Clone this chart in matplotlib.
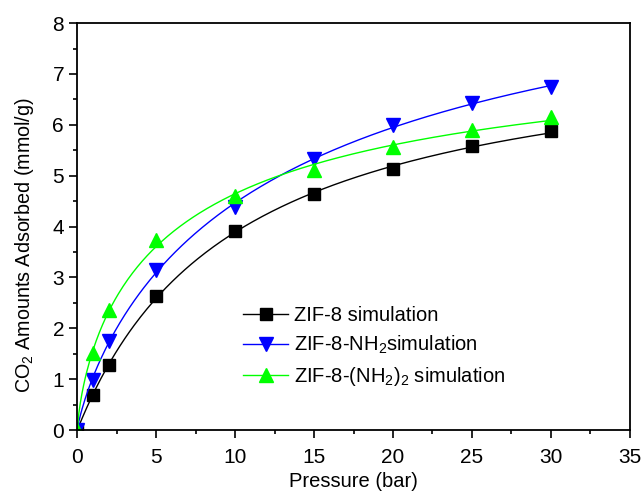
import matplotlib
matplotlib.use("Agg")
import matplotlib.pyplot as plt
import numpy as np
from matplotlib.ticker import MultipleLocator

plt.rcParams['font.family'] = ['Liberation Sans', 'DejaVu Sans']
plt.rcParams['mathtext.fontset'] = 'custom'
plt.rcParams['mathtext.rm'] = 'Liberation Sans'
plt.rcParams['mathtext.it'] = 'Liberation Sans'

# pressure (bar) and CO2 uptake (mmol/g)
pressure = [0, 1, 2, 5, 10, 15, 20, 25, 30]
zif8 = [0, 0.68, 1.28, 2.64, 3.91, 4.64, 5.14, 5.58, 5.87]
zif8_nh2 = [0, 0.99, 1.75, 3.15, 4.38, 5.33, 6.0, 6.43, 6.75]
zif8_nh2_2 = [0, 1.51, 2.36, 3.73, 4.61, 5.12, 5.57, 5.9, 6.15]

labels = ['ZIF-8 simulation', 'ZIF-8-NH$_2$simulation', 'ZIF-8-(NH$_2$)$_2$ simulation']
colors = ['black', '#0000ff', '#00ff00']
markers = ['s', 'v', '^']
sizes = [8.5, 10, 10]


def lf_fit(p, q):
    # Langmuir-Freundlich fit, grid search on b and n, qm by least squares
    p = np.asarray(p, float)
    q = np.asarray(q, float)
    best = None
    for b in np.linspace(0.005, 0.5, 200):
        for n in np.linspace(0.5, 1.2, 71):
            f = b * p ** n / (1 + b * p ** n)
            qm = (f @ q) / (f @ f)
            err = np.sum((qm * f - q) ** 2)
            if best is None or err < best[0]:
                best = (err, qm, b, n)
    _, qm, b, n = best
    return lambda x: qm * b * x ** n / (1 + b * x ** n)


fig = plt.figure(figsize=(6.44, 4.92), dpi=100)
ax = fig.add_axes([0.12, 0.126, 0.858, 0.827])

xs = np.linspace(0, 30, 300)
for ys, c, m, ms, lab in zip([zif8, zif8_nh2, zif8_nh2_2], colors, markers, sizes, labels):
    fit = lf_fit(pressure, ys)
    ax.plot(xs, fit(xs), color=c, lw=1)
    ax.plot(pressure, ys, m, color=c, ms=ms, mec=c, lw=0)
    ax.plot([], [], '-', marker=m, color=c, ms=ms, lw=1, label=lab)

ax.set_xlim(0, 35)
ax.set_ylim(0, 8)
ax.xaxis.set_major_locator(MultipleLocator(5))
ax.xaxis.set_minor_locator(MultipleLocator(2.5))
ax.yaxis.set_major_locator(MultipleLocator(1))
ax.yaxis.set_minor_locator(MultipleLocator(0.5))
ax.tick_params(which='major', direction='out', length=6, width=1.2, labelsize=15)
ax.tick_params(axis='x', which='major', pad=7)
ax.tick_params(which='minor', direction='out', length=3, width=1.2)
for s in ax.spines.values():
    s.set_linewidth(1.3)

ax.set_xlabel('Pressure (bar)', fontsize=14.5, labelpad=3.5)
ax.set_ylabel('CO$_2$ Amounts Adsorbed (mmol/g)', fontsize=14.2)
ax.yaxis.set_label_coords(-0.074, 0.455)

ax.legend(loc='upper left', bbox_to_anchor=(0.3, 0.305), frameon=False,
          fontsize=14.5, handlelength=2.25, handletextpad=0.3, labelspacing=0.45,
          borderaxespad=0, borderpad=0)

fig.savefig('out.png', dpi=100)
